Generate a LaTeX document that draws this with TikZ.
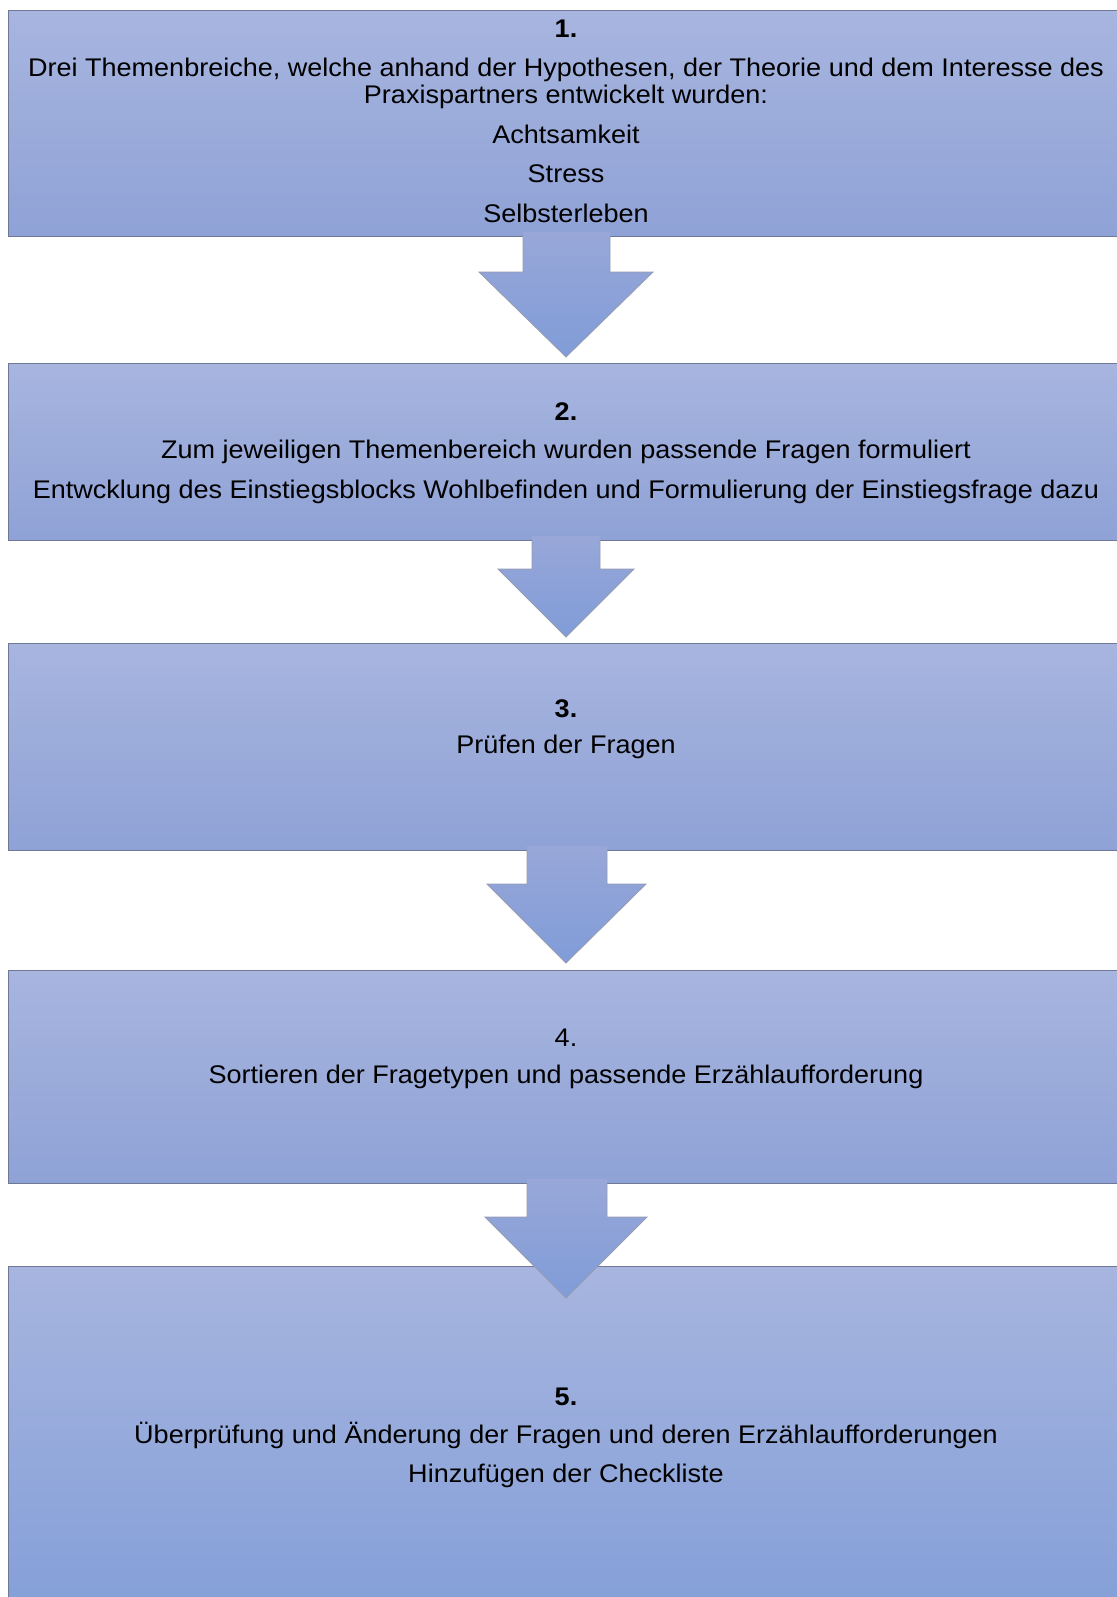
\documentclass[tikz,border=0pt]{standalone}
\usepackage{fontspec}
\setmainfont{Liberation Sans}[FakeStretch=1.06]
\definecolor{boxtop}{RGB}{167,181,223}
\definecolor{boxbot}{RGB}{143,162,214}
\definecolor{boxbotv}{RGB}{132,159,216}
\definecolor{arrtop}{RGB}{152,167,216}
\definecolor{arrbot}{RGB}{128,156,216}
\definecolor{edgec}{RGB}{112,120,150}
\definecolor{arredge}{RGB}{150,156,175}
\newcommand\blockarr[7]{%
  \shade[top color=arrtop,bottom color=arrbot] (#4,#1-4) -- (#4,#2) -- (#6,#2) -- (566,#3) -- (#7,#2) -- (#5,#2) -- (#5,#1-4) -- cycle;
  \draw[arredge, line width=0.8pt, line join=miter] (#4,#1) -- (#4,#2) -- (#6,#2) -- (566,#3) -- (#7,#2) -- (#5,#2) -- (#5,#1);}
\begin{document}
\begin{tikzpicture}[x=1pt,y=-1pt,
  stepbox/.style={draw=edgec, line width=1pt, top color=boxtop, bottom color=boxbot,
    minimum width=1116pt, inner sep=0pt, anchor=north west},
  lbl/.style={anchor=base, inner sep=0pt, font=\fontsize{25.5}{30}\selectfont},
  num/.style={anchor=base, inner sep=0pt, font=\fontsize{25.5}{30}\selectfont\bfseries}]
\useasboundingbox (0,0) rectangle (1116,1597);
\fill[white] (0,0) rectangle (1116,1597);
% boxes
\node[stepbox, minimum height=226pt] (b1) at (8,10) {};
\node[stepbox, minimum height=177pt] (b2) at (8,363) {};
\node[stepbox, minimum height=207pt] (b3) at (8,643) {};
\node[stepbox, minimum height=213pt] (b4) at (8,970) {};
\node[stepbox, minimum height=345pt, bottom color=boxbotv] (b5) at (8,1266) {};
% arrows
\blockarr{236}{272}{357}{523}{610}{479}{653}
\blockarr{540}{569}{637}{532}{600}{498}{634}
\blockarr{850}{884}{963}{527}{607}{487}{646}
\blockarr{1183}{1217}{1298}{527}{607}{485}{647}
% texts box 1
\node[num] (n1) at (566,38) {1.};
\node[lbl] (t1a) at (566,77) {Drei Themenbreiche, welche anhand der Hypothesen, der Theorie und dem Interesse des};
\node[lbl] (t1b) at (566,104) {Praxispartners entwickelt wurden:};
\node[lbl] (t1c) at (566,144) {Achtsamkeit};
\node[lbl] (t1d) at (566,183) {Stress};
\node[lbl] (t1e) at (566,223) {Selbsterleben};
% box 2
\node[num] (n2) at (566,420) {2.};
\node[lbl] (t2a) at (566,458) {Zum jeweiligen Themenbereich wurden passende Fragen formuliert};
\node[lbl] (t2b) at (566,498) {Entwcklung des Einstiegsblocks Wohlbefinden und Formulierung der Einstiegsfrage dazu};
% box 3
\node[num] (n3) at (566,717) {3.};
\node[lbl] (t3a) at (566,753) {Prüfen der Fragen};
% box 4
\node[lbl] (n4) at (566,1046) {4.};
\node[lbl] (t4a) at (566,1083) {Sortieren der Fragetypen und passende Erzählaufforderung};
% box 5
\node[num] (n5) at (566,1405) {5.};
\node[lbl] (t5a) at (566,1443) {Überprüfung und Änderung der Fragen und deren Erzählaufforderungen};
\node[lbl] (t5b) at (566,1482) {Hinzufügen der Checkliste};
\end{tikzpicture}
\end{document}
